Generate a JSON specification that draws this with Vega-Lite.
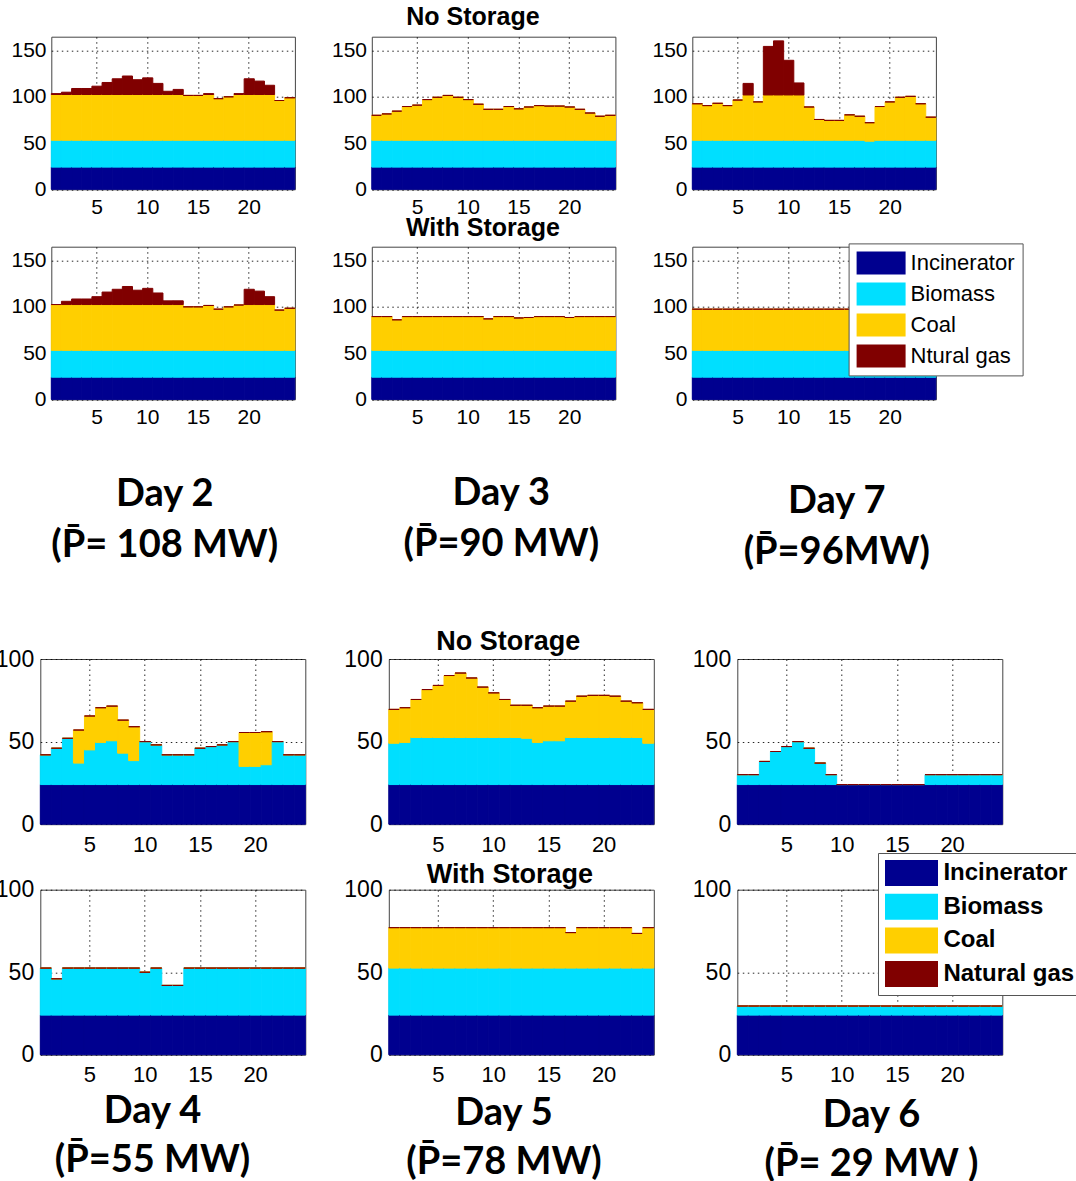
{
"$schema":"https://vega.github.io/schema/vega-lite/v6.json",
"autosize":"none",
"padding":{"left":40.3,"top":36.7,"right":1035.7,"bottom":1144.3},
"background":"white",
"datasets":{
"ord":[{"key":"Incinerator","o":1},{"key":"Biomass","o":2},{"key":"Coal","o":3},{"key":"Ntural gas","o":4},{"key":"Natural gas","o":4}],
"top":[
{"p":"2N","h":1,"Incinerator":24,"Biomass":29,"Coal":49.5,"Ntural gas":1},
{"p":"2N","h":2,"Incinerator":24,"Biomass":29,"Coal":49.5,"Ntural gas":2.5},
{"p":"2N","h":3,"Incinerator":24,"Biomass":29,"Coal":49.5,"Ntural gas":6.5},
{"p":"2N","h":4,"Incinerator":24,"Biomass":29,"Coal":49.5,"Ntural gas":6.5},
{"p":"2N","h":5,"Incinerator":24,"Biomass":29,"Coal":49.5,"Ntural gas":9},
{"p":"2N","h":6,"Incinerator":24,"Biomass":29,"Coal":49.5,"Ntural gas":13},
{"p":"2N","h":7,"Incinerator":24,"Biomass":29,"Coal":49.5,"Ntural gas":17},
{"p":"2N","h":8,"Incinerator":24,"Biomass":29,"Coal":49.5,"Ntural gas":20},
{"p":"2N","h":9,"Incinerator":24,"Biomass":29,"Coal":49.5,"Ntural gas":16},
{"p":"2N","h":10,"Incinerator":24,"Biomass":29,"Coal":49.5,"Ntural gas":18},
{"p":"2N","h":11,"Incinerator":24,"Biomass":29,"Coal":49.5,"Ntural gas":12},
{"p":"2N","h":12,"Incinerator":24,"Biomass":29,"Coal":49.5,"Ntural gas":3.5},
{"p":"2N","h":13,"Incinerator":24,"Biomass":29,"Coal":49.5,"Ntural gas":5.5},
{"p":"2N","h":14,"Incinerator":24,"Biomass":29,"Coal":48.5,"Ntural gas":0},
{"p":"2N","h":15,"Incinerator":24,"Biomass":29,"Coal":48.5,"Ntural gas":0},
{"p":"2N","h":16,"Incinerator":24,"Biomass":29,"Coal":49.5,"Ntural gas":1},
{"p":"2N","h":17,"Incinerator":24,"Biomass":29,"Coal":45,"Ntural gas":0},
{"p":"2N","h":18,"Incinerator":24,"Biomass":29,"Coal":47,"Ntural gas":0},
{"p":"2N","h":19,"Incinerator":24,"Biomass":29,"Coal":49.5,"Ntural gas":1},
{"p":"2N","h":20,"Incinerator":24,"Biomass":29,"Coal":49.5,"Ntural gas":17},
{"p":"2N","h":21,"Incinerator":24,"Biomass":29,"Coal":49.5,"Ntural gas":14.5},
{"p":"2N","h":22,"Incinerator":24,"Biomass":29,"Coal":49.5,"Ntural gas":10},
{"p":"2N","h":23,"Incinerator":24,"Biomass":29,"Coal":43,"Ntural gas":0},
{"p":"2N","h":24,"Incinerator":24,"Biomass":29,"Coal":46,"Ntural gas":0},
{"p":"2W","h":1,"Incinerator":24,"Biomass":29,"Coal":49.5,"Ntural gas":0},
{"p":"2W","h":2,"Incinerator":24,"Biomass":29,"Coal":49.5,"Ntural gas":3.5},
{"p":"2W","h":3,"Incinerator":24,"Biomass":29,"Coal":49.5,"Ntural gas":6},
{"p":"2W","h":4,"Incinerator":24,"Biomass":29,"Coal":49.5,"Ntural gas":6},
{"p":"2W","h":5,"Incinerator":24,"Biomass":29,"Coal":49.5,"Ntural gas":8.5},
{"p":"2W","h":6,"Incinerator":24,"Biomass":29,"Coal":49.5,"Ntural gas":13.5},
{"p":"2W","h":7,"Incinerator":24,"Biomass":29,"Coal":49.5,"Ntural gas":16.5},
{"p":"2W","h":8,"Incinerator":24,"Biomass":29,"Coal":49.5,"Ntural gas":19.5},
{"p":"2W","h":9,"Incinerator":24,"Biomass":29,"Coal":49.5,"Ntural gas":15.5},
{"p":"2W","h":10,"Incinerator":24,"Biomass":29,"Coal":49.5,"Ntural gas":17.5},
{"p":"2W","h":11,"Incinerator":24,"Biomass":29,"Coal":49.5,"Ntural gas":12.5},
{"p":"2W","h":12,"Incinerator":24,"Biomass":29,"Coal":49.5,"Ntural gas":4},
{"p":"2W","h":13,"Incinerator":24,"Biomass":29,"Coal":49.5,"Ntural gas":4},
{"p":"2W","h":14,"Incinerator":24,"Biomass":29,"Coal":47,"Ntural gas":0},
{"p":"2W","h":15,"Incinerator":24,"Biomass":29,"Coal":47,"Ntural gas":0},
{"p":"2W","h":16,"Incinerator":24,"Biomass":29,"Coal":48.5,"Ntural gas":0},
{"p":"2W","h":17,"Incinerator":24,"Biomass":29,"Coal":44.5,"Ntural gas":0},
{"p":"2W","h":18,"Incinerator":24,"Biomass":29,"Coal":47,"Ntural gas":0},
{"p":"2W","h":19,"Incinerator":24,"Biomass":29,"Coal":49,"Ntural gas":0},
{"p":"2W","h":20,"Incinerator":24,"Biomass":29,"Coal":49.5,"Ntural gas":16.5},
{"p":"2W","h":21,"Incinerator":24,"Biomass":29,"Coal":49.5,"Ntural gas":14.5},
{"p":"2W","h":22,"Incinerator":24,"Biomass":29,"Coal":49.5,"Ntural gas":8.5},
{"p":"2W","h":23,"Incinerator":24,"Biomass":29,"Coal":43.5,"Ntural gas":0},
{"p":"2W","h":24,"Incinerator":24,"Biomass":29,"Coal":45.5,"Ntural gas":0},
{"p":"3N","h":1,"Incinerator":24,"Biomass":29,"Coal":27,"Ntural gas":0},
{"p":"3N","h":2,"Incinerator":24,"Biomass":29,"Coal":28.5,"Ntural gas":0},
{"p":"3N","h":3,"Incinerator":24,"Biomass":29,"Coal":31.5,"Ntural gas":0},
{"p":"3N","h":4,"Incinerator":24,"Biomass":29,"Coal":36.5,"Ntural gas":0},
{"p":"3N","h":5,"Incinerator":24,"Biomass":29,"Coal":38,"Ntural gas":0},
{"p":"3N","h":6,"Incinerator":24,"Biomass":29,"Coal":44,"Ntural gas":0},
{"p":"3N","h":7,"Incinerator":24,"Biomass":29,"Coal":46.5,"Ntural gas":0},
{"p":"3N","h":8,"Incinerator":24,"Biomass":29,"Coal":48.5,"Ntural gas":0},
{"p":"3N","h":9,"Incinerator":24,"Biomass":29,"Coal":46.5,"Ntural gas":0},
{"p":"3N","h":10,"Incinerator":24,"Biomass":29,"Coal":44,"Ntural gas":0},
{"p":"3N","h":11,"Incinerator":24,"Biomass":29,"Coal":39,"Ntural gas":0},
{"p":"3N","h":12,"Incinerator":24,"Biomass":29,"Coal":33.5,"Ntural gas":0},
{"p":"3N","h":13,"Incinerator":24,"Biomass":29,"Coal":33.5,"Ntural gas":0},
{"p":"3N","h":14,"Incinerator":24,"Biomass":29,"Coal":36.5,"Ntural gas":0},
{"p":"3N","h":15,"Incinerator":24,"Biomass":29,"Coal":34,"Ntural gas":0},
{"p":"3N","h":16,"Incinerator":24,"Biomass":29,"Coal":36,"Ntural gas":0},
{"p":"3N","h":17,"Incinerator":24,"Biomass":29,"Coal":37.5,"Ntural gas":0},
{"p":"3N","h":18,"Incinerator":24,"Biomass":29,"Coal":37,"Ntural gas":0},
{"p":"3N","h":19,"Incinerator":24,"Biomass":29,"Coal":37,"Ntural gas":0},
{"p":"3N","h":20,"Incinerator":24,"Biomass":29,"Coal":36,"Ntural gas":0},
{"p":"3N","h":21,"Incinerator":24,"Biomass":29,"Coal":33.5,"Ntural gas":0},
{"p":"3N","h":22,"Incinerator":24,"Biomass":29,"Coal":29.5,"Ntural gas":0},
{"p":"3N","h":23,"Incinerator":24,"Biomass":29,"Coal":26,"Ntural gas":0},
{"p":"3N","h":24,"Incinerator":24,"Biomass":29,"Coal":27,"Ntural gas":0},
{"p":"3W","h":1,"Incinerator":24,"Biomass":29,"Coal":36.5,"Ntural gas":0},
{"p":"3W","h":2,"Incinerator":24,"Biomass":29,"Coal":36.5,"Ntural gas":0},
{"p":"3W","h":3,"Incinerator":24,"Biomass":29,"Coal":33,"Ntural gas":0},
{"p":"3W","h":4,"Incinerator":24,"Biomass":29,"Coal":36.5,"Ntural gas":0},
{"p":"3W","h":5,"Incinerator":24,"Biomass":29,"Coal":36.5,"Ntural gas":0},
{"p":"3W","h":6,"Incinerator":24,"Biomass":29,"Coal":36.5,"Ntural gas":0},
{"p":"3W","h":7,"Incinerator":24,"Biomass":29,"Coal":36.5,"Ntural gas":0},
{"p":"3W","h":8,"Incinerator":24,"Biomass":29,"Coal":36.5,"Ntural gas":0},
{"p":"3W","h":9,"Incinerator":24,"Biomass":29,"Coal":36.5,"Ntural gas":0},
{"p":"3W","h":10,"Incinerator":24,"Biomass":29,"Coal":36.5,"Ntural gas":0},
{"p":"3W","h":11,"Incinerator":24,"Biomass":29,"Coal":36.5,"Ntural gas":0},
{"p":"3W","h":12,"Incinerator":24,"Biomass":29,"Coal":34,"Ntural gas":0},
{"p":"3W","h":13,"Incinerator":24,"Biomass":29,"Coal":36.5,"Ntural gas":0},
{"p":"3W","h":14,"Incinerator":24,"Biomass":29,"Coal":36.5,"Ntural gas":0},
{"p":"3W","h":15,"Incinerator":24,"Biomass":29,"Coal":35,"Ntural gas":0},
{"p":"3W","h":16,"Incinerator":24,"Biomass":29,"Coal":35.5,"Ntural gas":0},
{"p":"3W","h":17,"Incinerator":24,"Biomass":29,"Coal":36.5,"Ntural gas":0},
{"p":"3W","h":18,"Incinerator":24,"Biomass":29,"Coal":36.5,"Ntural gas":0},
{"p":"3W","h":19,"Incinerator":24,"Biomass":29,"Coal":36.5,"Ntural gas":0},
{"p":"3W","h":20,"Incinerator":24,"Biomass":29,"Coal":35.5,"Ntural gas":0},
{"p":"3W","h":21,"Incinerator":24,"Biomass":29,"Coal":36.5,"Ntural gas":0},
{"p":"3W","h":22,"Incinerator":24,"Biomass":29,"Coal":36.5,"Ntural gas":0},
{"p":"3W","h":23,"Incinerator":24,"Biomass":29,"Coal":36.5,"Ntural gas":0},
{"p":"3W","h":24,"Incinerator":24,"Biomass":29,"Coal":36.5,"Ntural gas":0},
{"p":"7N","h":1,"Incinerator":24,"Biomass":29,"Coal":39.5,"Ntural gas":0},
{"p":"7N","h":2,"Incinerator":24,"Biomass":29,"Coal":37.5,"Ntural gas":0},
{"p":"7N","h":3,"Incinerator":24,"Biomass":29,"Coal":40,"Ntural gas":0},
{"p":"7N","h":4,"Incinerator":24,"Biomass":29,"Coal":37.5,"Ntural gas":0},
{"p":"7N","h":5,"Incinerator":24,"Biomass":29,"Coal":43.5,"Ntural gas":0},
{"p":"7N","h":6,"Incinerator":24,"Biomass":29,"Coal":49,"Ntural gas":12.5},
{"p":"7N","h":7,"Incinerator":24,"Biomass":29,"Coal":41.5,"Ntural gas":0},
{"p":"7N","h":8,"Incinerator":24,"Biomass":29,"Coal":49,"Ntural gas":52.5},
{"p":"7N","h":9,"Incinerator":24,"Biomass":29,"Coal":49,"Ntural gas":58.5},
{"p":"7N","h":10,"Incinerator":24,"Biomass":29,"Coal":49,"Ntural gas":37.5},
{"p":"7N","h":11,"Incinerator":24,"Biomass":29,"Coal":49,"Ntural gas":13},
{"p":"7N","h":12,"Incinerator":24,"Biomass":29,"Coal":36,"Ntural gas":0},
{"p":"7N","h":13,"Incinerator":24,"Biomass":29,"Coal":22.5,"Ntural gas":0},
{"p":"7N","h":14,"Incinerator":24,"Biomass":29,"Coal":21.5,"Ntural gas":0},
{"p":"7N","h":15,"Incinerator":24,"Biomass":29,"Coal":21.5,"Ntural gas":0},
{"p":"7N","h":16,"Incinerator":24,"Biomass":29,"Coal":27.5,"Ntural gas":0},
{"p":"7N","h":17,"Incinerator":24,"Biomass":29,"Coal":26,"Ntural gas":0},
{"p":"7N","h":18,"Incinerator":24,"Biomass":28,"Coal":20,"Ntural gas":0},
{"p":"7N","h":19,"Incinerator":24,"Biomass":29,"Coal":36.5,"Ntural gas":0},
{"p":"7N","h":20,"Incinerator":24,"Biomass":29,"Coal":41.5,"Ntural gas":0},
{"p":"7N","h":21,"Incinerator":24,"Biomass":29,"Coal":46.5,"Ntural gas":0},
{"p":"7N","h":22,"Incinerator":24,"Biomass":29,"Coal":47.5,"Ntural gas":0},
{"p":"7N","h":23,"Incinerator":24,"Biomass":29,"Coal":39.5,"Ntural gas":0},
{"p":"7N","h":24,"Incinerator":24,"Biomass":29,"Coal":25,"Ntural gas":0},
{"p":"7W","h":1,"Incinerator":24,"Biomass":29,"Coal":44.5,"Ntural gas":0},
{"p":"7W","h":2,"Incinerator":24,"Biomass":29,"Coal":44.5,"Ntural gas":0},
{"p":"7W","h":3,"Incinerator":24,"Biomass":29,"Coal":44.5,"Ntural gas":0},
{"p":"7W","h":4,"Incinerator":24,"Biomass":29,"Coal":44.5,"Ntural gas":0},
{"p":"7W","h":5,"Incinerator":24,"Biomass":29,"Coal":44.5,"Ntural gas":0},
{"p":"7W","h":6,"Incinerator":24,"Biomass":29,"Coal":44.5,"Ntural gas":0},
{"p":"7W","h":7,"Incinerator":24,"Biomass":29,"Coal":44.5,"Ntural gas":0},
{"p":"7W","h":8,"Incinerator":24,"Biomass":29,"Coal":44.5,"Ntural gas":0},
{"p":"7W","h":9,"Incinerator":24,"Biomass":29,"Coal":44.5,"Ntural gas":0},
{"p":"7W","h":10,"Incinerator":24,"Biomass":29,"Coal":44.5,"Ntural gas":0},
{"p":"7W","h":11,"Incinerator":24,"Biomass":29,"Coal":44.5,"Ntural gas":0},
{"p":"7W","h":12,"Incinerator":24,"Biomass":29,"Coal":44.5,"Ntural gas":0},
{"p":"7W","h":13,"Incinerator":24,"Biomass":29,"Coal":44.5,"Ntural gas":0},
{"p":"7W","h":14,"Incinerator":24,"Biomass":29,"Coal":44.5,"Ntural gas":0},
{"p":"7W","h":15,"Incinerator":24,"Biomass":29,"Coal":44.5,"Ntural gas":0},
{"p":"7W","h":16,"Incinerator":24,"Biomass":29,"Coal":44.5,"Ntural gas":0},
{"p":"7W","h":17,"Incinerator":24,"Biomass":29,"Coal":44.5,"Ntural gas":0},
{"p":"7W","h":18,"Incinerator":24,"Biomass":29,"Coal":44.5,"Ntural gas":0},
{"p":"7W","h":19,"Incinerator":24,"Biomass":29,"Coal":44.5,"Ntural gas":0},
{"p":"7W","h":20,"Incinerator":24,"Biomass":29,"Coal":44.5,"Ntural gas":0},
{"p":"7W","h":21,"Incinerator":24,"Biomass":29,"Coal":44.5,"Ntural gas":0},
{"p":"7W","h":22,"Incinerator":24,"Biomass":29,"Coal":44.5,"Ntural gas":0},
{"p":"7W","h":23,"Incinerator":24,"Biomass":29,"Coal":44.5,"Ntural gas":0},
{"p":"7W","h":24,"Incinerator":24,"Biomass":29,"Coal":44.5,"Ntural gas":0}
],
"bot":[
{"p":"4N","h":1,"Incinerator":24,"Biomass":18,"Coal":0,"Natural gas":0},
{"p":"4N","h":2,"Incinerator":24,"Biomass":22,"Coal":0,"Natural gas":0},
{"p":"4N","h":3,"Incinerator":24,"Biomass":28,"Coal":0,"Natural gas":0},
{"p":"4N","h":4,"Incinerator":24,"Biomass":13,"Coal":20,"Natural gas":0},
{"p":"4N","h":5,"Incinerator":24,"Biomass":21,"Coal":20.5,"Natural gas":0},
{"p":"4N","h":6,"Incinerator":24,"Biomass":25.5,"Coal":21,"Natural gas":0},
{"p":"4N","h":7,"Incinerator":24,"Biomass":26.5,"Coal":21,"Natural gas":0},
{"p":"4N","h":8,"Incinerator":24,"Biomass":19,"Coal":20,"Natural gas":0},
{"p":"4N","h":9,"Incinerator":24,"Biomass":14.5,"Coal":20.5,"Natural gas":0},
{"p":"4N","h":10,"Incinerator":24,"Biomass":26,"Coal":0,"Natural gas":0},
{"p":"4N","h":11,"Incinerator":24,"Biomass":24,"Coal":0,"Natural gas":0},
{"p":"4N","h":12,"Incinerator":24,"Biomass":18,"Coal":0,"Natural gas":0},
{"p":"4N","h":13,"Incinerator":24,"Biomass":18,"Coal":0,"Natural gas":0},
{"p":"4N","h":14,"Incinerator":24,"Biomass":18,"Coal":0,"Natural gas":0},
{"p":"4N","h":15,"Incinerator":24,"Biomass":22,"Coal":0,"Natural gas":0},
{"p":"4N","h":16,"Incinerator":24,"Biomass":23,"Coal":0,"Natural gas":0},
{"p":"4N","h":17,"Incinerator":24,"Biomass":24,"Coal":0,"Natural gas":0},
{"p":"4N","h":18,"Incinerator":24,"Biomass":26,"Coal":0,"Natural gas":0},
{"p":"4N","h":19,"Incinerator":24,"Biomass":11,"Coal":20.5,"Natural gas":0},
{"p":"4N","h":20,"Incinerator":24,"Biomass":11,"Coal":20.5,"Natural gas":0},
{"p":"4N","h":21,"Incinerator":24,"Biomass":12,"Coal":20,"Natural gas":0},
{"p":"4N","h":22,"Incinerator":24,"Biomass":26,"Coal":0,"Natural gas":0},
{"p":"4N","h":23,"Incinerator":24,"Biomass":18,"Coal":0,"Natural gas":0},
{"p":"4N","h":24,"Incinerator":24,"Biomass":18,"Coal":0,"Natural gas":0},
{"p":"4W","h":1,"Incinerator":24,"Biomass":28.5,"Coal":0,"Natural gas":0},
{"p":"4W","h":2,"Incinerator":24,"Biomass":22,"Coal":0,"Natural gas":0},
{"p":"4W","h":3,"Incinerator":24,"Biomass":28.5,"Coal":0,"Natural gas":0},
{"p":"4W","h":4,"Incinerator":24,"Biomass":28.5,"Coal":0,"Natural gas":0},
{"p":"4W","h":5,"Incinerator":24,"Biomass":28.5,"Coal":0,"Natural gas":0},
{"p":"4W","h":6,"Incinerator":24,"Biomass":28.5,"Coal":0,"Natural gas":0},
{"p":"4W","h":7,"Incinerator":24,"Biomass":28.5,"Coal":0,"Natural gas":0},
{"p":"4W","h":8,"Incinerator":24,"Biomass":28.5,"Coal":0,"Natural gas":0},
{"p":"4W","h":9,"Incinerator":24,"Biomass":28.5,"Coal":0,"Natural gas":0},
{"p":"4W","h":10,"Incinerator":24,"Biomass":26,"Coal":0,"Natural gas":0},
{"p":"4W","h":11,"Incinerator":24,"Biomass":28.5,"Coal":0,"Natural gas":0},
{"p":"4W","h":12,"Incinerator":24,"Biomass":18,"Coal":0,"Natural gas":0},
{"p":"4W","h":13,"Incinerator":24,"Biomass":18,"Coal":0,"Natural gas":0},
{"p":"4W","h":14,"Incinerator":24,"Biomass":28.5,"Coal":0,"Natural gas":0},
{"p":"4W","h":15,"Incinerator":24,"Biomass":28.5,"Coal":0,"Natural gas":0},
{"p":"4W","h":16,"Incinerator":24,"Biomass":28.5,"Coal":0,"Natural gas":0},
{"p":"4W","h":17,"Incinerator":24,"Biomass":28.5,"Coal":0,"Natural gas":0},
{"p":"4W","h":18,"Incinerator":24,"Biomass":28.5,"Coal":0,"Natural gas":0},
{"p":"4W","h":19,"Incinerator":24,"Biomass":28.5,"Coal":0,"Natural gas":0},
{"p":"4W","h":20,"Incinerator":24,"Biomass":28.5,"Coal":0,"Natural gas":0},
{"p":"4W","h":21,"Incinerator":24,"Biomass":28.5,"Coal":0,"Natural gas":0},
{"p":"4W","h":22,"Incinerator":24,"Biomass":28.5,"Coal":0,"Natural gas":0},
{"p":"4W","h":23,"Incinerator":24,"Biomass":28.5,"Coal":0,"Natural gas":0},
{"p":"4W","h":24,"Incinerator":24,"Biomass":28.5,"Coal":0,"Natural gas":0},
{"p":"5N","h":1,"Incinerator":24,"Biomass":25,"Coal":20.5,"Natural gas":0},
{"p":"5N","h":2,"Incinerator":24,"Biomass":25.5,"Coal":21,"Natural gas":0},
{"p":"5N","h":3,"Incinerator":24,"Biomass":28.5,"Coal":23,"Natural gas":0},
{"p":"5N","h":4,"Incinerator":24,"Biomass":28.5,"Coal":29,"Natural gas":0},
{"p":"5N","h":5,"Incinerator":24,"Biomass":28.5,"Coal":31.5,"Natural gas":0},
{"p":"5N","h":6,"Incinerator":24,"Biomass":28.5,"Coal":37.5,"Natural gas":0},
{"p":"5N","h":7,"Incinerator":24,"Biomass":28.5,"Coal":39,"Natural gas":0},
{"p":"5N","h":8,"Incinerator":24,"Biomass":28.5,"Coal":36,"Natural gas":0},
{"p":"5N","h":9,"Incinerator":24,"Biomass":28.5,"Coal":30.5,"Natural gas":0},
{"p":"5N","h":10,"Incinerator":24,"Biomass":28.5,"Coal":27,"Natural gas":0},
{"p":"5N","h":11,"Incinerator":24,"Biomass":28.5,"Coal":23,"Natural gas":0},
{"p":"5N","h":12,"Incinerator":24,"Biomass":28.5,"Coal":19.5,"Natural gas":0},
{"p":"5N","h":13,"Incinerator":24,"Biomass":28,"Coal":20,"Natural gas":0},
{"p":"5N","h":14,"Incinerator":24,"Biomass":25.5,"Coal":21,"Natural gas":0},
{"p":"5N","h":15,"Incinerator":24,"Biomass":26.5,"Coal":21,"Natural gas":0},
{"p":"5N","h":16,"Incinerator":24,"Biomass":26.5,"Coal":21,"Natural gas":0},
{"p":"5N","h":17,"Incinerator":24,"Biomass":28.5,"Coal":22,"Natural gas":0},
{"p":"5N","h":18,"Incinerator":24,"Biomass":28.5,"Coal":25,"Natural gas":0},
{"p":"5N","h":19,"Incinerator":24,"Biomass":28.5,"Coal":25.5,"Natural gas":0},
{"p":"5N","h":20,"Incinerator":24,"Biomass":28.5,"Coal":25.5,"Natural gas":0},
{"p":"5N","h":21,"Incinerator":24,"Biomass":28.5,"Coal":25,"Natural gas":0},
{"p":"5N","h":22,"Incinerator":24,"Biomass":28.5,"Coal":22,"Natural gas":0},
{"p":"5N","h":23,"Incinerator":24,"Biomass":28.5,"Coal":21,"Natural gas":0},
{"p":"5N","h":24,"Incinerator":24,"Biomass":25,"Coal":20.5,"Natural gas":0},
{"p":"5W","h":1,"Incinerator":24,"Biomass":28.5,"Coal":24.5,"Natural gas":0},
{"p":"5W","h":2,"Incinerator":24,"Biomass":28.5,"Coal":24.5,"Natural gas":0},
{"p":"5W","h":3,"Incinerator":24,"Biomass":28.5,"Coal":24.5,"Natural gas":0},
{"p":"5W","h":4,"Incinerator":24,"Biomass":28.5,"Coal":24.5,"Natural gas":0},
{"p":"5W","h":5,"Incinerator":24,"Biomass":28.5,"Coal":24.5,"Natural gas":0},
{"p":"5W","h":6,"Incinerator":24,"Biomass":28.5,"Coal":24.5,"Natural gas":0},
{"p":"5W","h":7,"Incinerator":24,"Biomass":28.5,"Coal":24.5,"Natural gas":0},
{"p":"5W","h":8,"Incinerator":24,"Biomass":28.5,"Coal":24.5,"Natural gas":0},
{"p":"5W","h":9,"Incinerator":24,"Biomass":28.5,"Coal":24.5,"Natural gas":0},
{"p":"5W","h":10,"Incinerator":24,"Biomass":28.5,"Coal":24.5,"Natural gas":0},
{"p":"5W","h":11,"Incinerator":24,"Biomass":28.5,"Coal":24.5,"Natural gas":0},
{"p":"5W","h":12,"Incinerator":24,"Biomass":28.5,"Coal":24.5,"Natural gas":0},
{"p":"5W","h":13,"Incinerator":24,"Biomass":28.5,"Coal":24.5,"Natural gas":0},
{"p":"5W","h":14,"Incinerator":24,"Biomass":28.5,"Coal":24.5,"Natural gas":0},
{"p":"5W","h":15,"Incinerator":24,"Biomass":28.5,"Coal":24.5,"Natural gas":0},
{"p":"5W","h":16,"Incinerator":24,"Biomass":28.5,"Coal":24.5,"Natural gas":0},
{"p":"5W","h":17,"Incinerator":24,"Biomass":28.5,"Coal":21.5,"Natural gas":0},
{"p":"5W","h":18,"Incinerator":24,"Biomass":28.5,"Coal":24.5,"Natural gas":0},
{"p":"5W","h":19,"Incinerator":24,"Biomass":28.5,"Coal":24.5,"Natural gas":0},
{"p":"5W","h":20,"Incinerator":24,"Biomass":28.5,"Coal":24.5,"Natural gas":0},
{"p":"5W","h":21,"Incinerator":24,"Biomass":28.5,"Coal":24.5,"Natural gas":0},
{"p":"5W","h":22,"Incinerator":24,"Biomass":28.5,"Coal":24.5,"Natural gas":0},
{"p":"5W","h":23,"Incinerator":24,"Biomass":28.5,"Coal":21,"Natural gas":0},
{"p":"5W","h":24,"Incinerator":24,"Biomass":28.5,"Coal":24.5,"Natural gas":0},
{"p":"6N","h":1,"Incinerator":24,"Biomass":6,"Coal":0,"Natural gas":0},
{"p":"6N","h":2,"Incinerator":24,"Biomass":6,"Coal":0,"Natural gas":0},
{"p":"6N","h":3,"Incinerator":24,"Biomass":14,"Coal":0,"Natural gas":0},
{"p":"6N","h":4,"Incinerator":24,"Biomass":20,"Coal":0,"Natural gas":0},
{"p":"6N","h":5,"Incinerator":24,"Biomass":23,"Coal":0,"Natural gas":0},
{"p":"6N","h":6,"Incinerator":24,"Biomass":26,"Coal":0,"Natural gas":0},
{"p":"6N","h":7,"Incinerator":24,"Biomass":22,"Coal":0,"Natural gas":0},
{"p":"6N","h":8,"Incinerator":24,"Biomass":13,"Coal":0,"Natural gas":0},
{"p":"6N","h":9,"Incinerator":24,"Biomass":6,"Coal":0,"Natural gas":0},
{"p":"6N","h":10,"Incinerator":24,"Biomass":0,"Coal":0,"Natural gas":0},
{"p":"6N","h":11,"Incinerator":24,"Biomass":0,"Coal":0,"Natural gas":0},
{"p":"6N","h":12,"Incinerator":24,"Biomass":0,"Coal":0,"Natural gas":0},
{"p":"6N","h":13,"Incinerator":24,"Biomass":0,"Coal":0,"Natural gas":0},
{"p":"6N","h":14,"Incinerator":24,"Biomass":0,"Coal":0,"Natural gas":0},
{"p":"6N","h":15,"Incinerator":24,"Biomass":0,"Coal":0,"Natural gas":0},
{"p":"6N","h":16,"Incinerator":24,"Biomass":0,"Coal":0,"Natural gas":0},
{"p":"6N","h":17,"Incinerator":24,"Biomass":0,"Coal":0,"Natural gas":0},
{"p":"6N","h":18,"Incinerator":24,"Biomass":6,"Coal":0,"Natural gas":0},
{"p":"6N","h":19,"Incinerator":24,"Biomass":6,"Coal":0,"Natural gas":0},
{"p":"6N","h":20,"Incinerator":24,"Biomass":6,"Coal":0,"Natural gas":0},
{"p":"6N","h":21,"Incinerator":24,"Biomass":6,"Coal":0,"Natural gas":0},
{"p":"6N","h":22,"Incinerator":24,"Biomass":6,"Coal":0,"Natural gas":0},
{"p":"6N","h":23,"Incinerator":24,"Biomass":6,"Coal":0,"Natural gas":0},
{"p":"6N","h":24,"Incinerator":24,"Biomass":6,"Coal":0,"Natural gas":0},
{"p":"6W","h":1,"Incinerator":24,"Biomass":5.5,"Coal":0,"Natural gas":0},
{"p":"6W","h":2,"Incinerator":24,"Biomass":5.5,"Coal":0,"Natural gas":0},
{"p":"6W","h":3,"Incinerator":24,"Biomass":5.5,"Coal":0,"Natural gas":0},
{"p":"6W","h":4,"Incinerator":24,"Biomass":5.5,"Coal":0,"Natural gas":0},
{"p":"6W","h":5,"Incinerator":24,"Biomass":5.5,"Coal":0,"Natural gas":0},
{"p":"6W","h":6,"Incinerator":24,"Biomass":5.5,"Coal":0,"Natural gas":0},
{"p":"6W","h":7,"Incinerator":24,"Biomass":5.5,"Coal":0,"Natural gas":0},
{"p":"6W","h":8,"Incinerator":24,"Biomass":5.5,"Coal":0,"Natural gas":0},
{"p":"6W","h":9,"Incinerator":24,"Biomass":5.5,"Coal":0,"Natural gas":0},
{"p":"6W","h":10,"Incinerator":24,"Biomass":5.5,"Coal":0,"Natural gas":0},
{"p":"6W","h":11,"Incinerator":24,"Biomass":5.5,"Coal":0,"Natural gas":0},
{"p":"6W","h":12,"Incinerator":24,"Biomass":5.5,"Coal":0,"Natural gas":0},
{"p":"6W","h":13,"Incinerator":24,"Biomass":5.5,"Coal":0,"Natural gas":0},
{"p":"6W","h":14,"Incinerator":24,"Biomass":5.5,"Coal":0,"Natural gas":0},
{"p":"6W","h":15,"Incinerator":24,"Biomass":5.5,"Coal":0,"Natural gas":0},
{"p":"6W","h":16,"Incinerator":24,"Biomass":5.5,"Coal":0,"Natural gas":0},
{"p":"6W","h":17,"Incinerator":24,"Biomass":5.5,"Coal":0,"Natural gas":0},
{"p":"6W","h":18,"Incinerator":24,"Biomass":5.5,"Coal":0,"Natural gas":0},
{"p":"6W","h":19,"Incinerator":24,"Biomass":5.5,"Coal":0,"Natural gas":0},
{"p":"6W","h":20,"Incinerator":24,"Biomass":5.5,"Coal":0,"Natural gas":0},
{"p":"6W","h":21,"Incinerator":24,"Biomass":5.5,"Coal":0,"Natural gas":0},
{"p":"6W","h":22,"Incinerator":24,"Biomass":5.5,"Coal":0,"Natural gas":0},
{"p":"6W","h":23,"Incinerator":24,"Biomass":5.5,"Coal":0,"Natural gas":0},
{"p":"6W","h":24,"Incinerator":24,"Biomass":5.5,"Coal":0,"Natural gas":0}
]
},
"config":{
"view":{"stroke":"#444","strokeWidth":1},
"axis":{"domain":false,"ticks":false,"tickSize":0,"labelFont":"Liberation Sans","labelColor":"#000","grid":true,"gridColor":"#000","gridDash":[1.5,3.5],"gridOpacity":0.85,"gridWidth":1,"labelFlush":false,"labelOverlap":false},
"axisX":{"titleFont":"Lato","titleFontSize":38,"titleFontWeight":"bold","titleColor":"#000","titleAlign":"center","titleBaseline":"alphabetic","titleAngle":0},
"title":{"font":"Liberation Sans","fontWeight":"bold","color":"#000","anchor":"middle","frame":"group","baseline":"alphabetic"}
},
"resolve":{"scale":{"color":"independent","stroke":"independent"},"legend":{"color":"independent","stroke":"independent"}},
"spacing":54.3,
"vconcat":[
{"spacing":-4.0,
 "resolve":{"scale":{"color":"independent","stroke":"independent"},"legend":{"color":"independent","stroke":"independent"}},
 "vconcat":[
 {"hconcat":[
  {"width":10.7,"height":10,"data":{"values":[]},"mark":{"type":"point"},"encoding":{},"view":{"stroke":null,"fill":null}},
  {"hconcat":[
  {"width":243.6,"height":152.6,"data":{"name":"top"},
   "transform":[{"filter":"datum.p=='2N'"},{"fold":["Incinerator","Biomass","Coal","Ntural gas"],"as":["key","mw"]},{"lookup":"key","from":{"data":{"name":"ord"},"key":"key","fields":["o"]}}],
   "mark":{"type":"bar","strokeWidth":1},
   "encoding":{
    "x":{"field":"h","type":"ordinal","scale":{"paddingInner":0,"paddingOuter":0},"axis":{"values":[5,10,15,20],"labelAngle":0,"bandPosition":0.5,"grid":true,"labelFontSize":21,"labelPadding":7,"title":null}},
    "y":{"field":"mw","type":"quantitative","stack":"zero","scale":{"domain":[0,165],"nice":false},"axis":{"values":[0,50,100,150],"labelFontSize":21,"labelPadding":5.3,"title":null}},
    "color":{"field":"key","type":"nominal","scale":{"domain":["Incinerator","Biomass","Coal","Ntural gas"],"range":["#00008F","#00DFFF","#FFCF00","#800000"]},"legend":null},
    "stroke":{"field":"key","type":"nominal","scale":{"domain":["Incinerator","Biomass","Coal","Ntural gas"],"range":["#00008F","#00DFFF","#FFCF00","#800000"]},"legend":null},
    "order":{"field":"o","type":"quantitative"}}},
  {"width":243.6,"height":152.6,"data":{"name":"top"},
   "title":{"text":"No Storage","fontSize":25,"offset":6.3,"dx":-20.7},
   "transform":[{"filter":"datum.p=='3N'"},{"fold":["Incinerator","Biomass","Coal","Ntural gas"],"as":["key","mw"]},{"lookup":"key","from":{"data":{"name":"ord"},"key":"key","fields":["o"]}}],
   "mark":{"type":"bar","strokeWidth":1},
   "encoding":{
    "x":{"field":"h","type":"ordinal","scale":{"paddingInner":0,"paddingOuter":0},"axis":{"values":[5,10,15,20],"labelAngle":0,"bandPosition":0.5,"grid":true,"labelFontSize":21,"labelPadding":7,"title":null}},
    "y":{"field":"mw","type":"quantitative","stack":"zero","scale":{"domain":[0,165],"nice":false},"axis":{"values":[0,50,100,150],"labelFontSize":21,"labelPadding":5.3,"title":null}},
    "color":{"field":"key","type":"nominal","scale":{"domain":["Incinerator","Biomass","Coal","Ntural gas"],"range":["#00008F","#00DFFF","#FFCF00","#800000"]},"legend":null},
    "stroke":{"field":"key","type":"nominal","scale":{"domain":["Incinerator","Biomass","Coal","Ntural gas"],"range":["#00008F","#00DFFF","#FFCF00","#800000"]},"legend":null},
    "order":{"field":"o","type":"quantitative"}}},
  {"width":243.6,"height":152.6,"data":{"name":"top"},
   "transform":[{"filter":"datum.p=='7N'"},{"fold":["Incinerator","Biomass","Coal","Ntural gas"],"as":["key","mw"]},{"lookup":"key","from":{"data":{"name":"ord"},"key":"key","fields":["o"]}}],
   "mark":{"type":"bar","strokeWidth":1},
   "encoding":{
    "x":{"field":"h","type":"ordinal","scale":{"paddingInner":0,"paddingOuter":0},"axis":{"values":[5,10,15,20],"labelAngle":0,"bandPosition":0.5,"grid":true,"labelFontSize":21,"labelPadding":7,"title":null}},
    "y":{"field":"mw","type":"quantitative","stack":"zero","scale":{"domain":[0,165],"nice":false},"axis":{"values":[0,50,100,150],"labelFontSize":21,"labelPadding":5.3,"title":null}},
    "color":{"field":"key","type":"nominal","scale":{"domain":["Incinerator","Biomass","Coal","Ntural gas"],"range":["#00008F","#00DFFF","#FFCF00","#800000"]},"legend":null},
    "stroke":{"field":"key","type":"nominal","scale":{"domain":["Incinerator","Biomass","Coal","Ntural gas"],"range":["#00008F","#00DFFF","#FFCF00","#800000"]},"legend":null},
    "order":{"field":"o","type":"quantitative"}}}
  ],"spacing":76.5,"bounds":"flush"}
 ],"spacing":0,"bounds":"flush",
 "resolve":{"scale":{"color":"independent","stroke":"independent"},"legend":{"color":"independent","stroke":"independent"}}},
 {"hconcat":[
  {"width":10.7,"height":10,"data":{"values":[]},"mark":{"type":"point"},"encoding":{},"view":{"stroke":null,"fill":null}},
  {"hconcat":[
  {"width":243.6,"height":152.7,"data":{"name":"top"},
   "transform":[{"filter":"datum.p=='2W'"},{"fold":["Incinerator","Biomass","Coal","Ntural gas"],"as":["key","mw"]},{"lookup":"key","from":{"data":{"name":"ord"},"key":"key","fields":["o"]}}],
   "mark":{"type":"bar","strokeWidth":1},
   "encoding":{
    "x":{"field":"h","type":"ordinal","scale":{"paddingInner":0,"paddingOuter":0},"axis":{"values":[5,10,15,20],"labelAngle":0,"bandPosition":0.5,"grid":true,"labelFontSize":21,"labelPadding":7,"title":["Day 2","(P\u0304= 108 MW)"],"titleX":113,"titleY":106.5,"titleLineHeight":51}},
    "y":{"field":"mw","type":"quantitative","stack":"zero","scale":{"domain":[0,165],"nice":false},"axis":{"values":[0,50,100,150],"labelFontSize":21,"labelPadding":5.3,"title":null}},
    "color":{"field":"key","type":"nominal","scale":{"domain":["Incinerator","Biomass","Coal","Ntural gas"],"range":["#00008F","#00DFFF","#FFCF00","#800000"]},"legend":{"orient":"none","legendX":797.3,"legendY":-3.3,"title":null,"symbolType":"M-1,-1H3.26V1H-1Z","symbolSize":529,"symbolStrokeWidth":0,"symbolOpacity":1,"labelFont":"Liberation Sans","labelFontSize":22,"labelColor":"#000","labelOffset":31,"rowPadding":8,"padding":8,"strokeColor":"#555","fillColor":"#fff","labelLimit":400}},
    "stroke":{"field":"key","type":"nominal","scale":{"domain":["Incinerator","Biomass","Coal","Ntural gas"],"range":["#00008F","#00DFFF","#FFCF00","#800000"]},"legend":null},
    "order":{"field":"o","type":"quantitative"}}},
  {"width":243.6,"height":152.7,"data":{"name":"top"},
   "title":{"text":"With Storage","fontSize":25,"offset":6,"dx":-10.7},
   "transform":[{"filter":"datum.p=='3W'"},{"fold":["Incinerator","Biomass","Coal","Ntural gas"],"as":["key","mw"]},{"lookup":"key","from":{"data":{"name":"ord"},"key":"key","fields":["o"]}}],
   "mark":{"type":"bar","strokeWidth":1},
   "encoding":{
    "x":{"field":"h","type":"ordinal","scale":{"paddingInner":0,"paddingOuter":0},"axis":{"values":[5,10,15,20],"labelAngle":0,"bandPosition":0.5,"grid":true,"labelFontSize":21,"labelPadding":7,"title":["Day 3","(P\u0304=90 MW)"],"titleX":129,"titleY":105.5,"titleLineHeight":51}},
    "y":{"field":"mw","type":"quantitative","stack":"zero","scale":{"domain":[0,165],"nice":false},"axis":{"values":[0,50,100,150],"labelFontSize":21,"labelPadding":5.3,"title":null}},
    "color":{"field":"key","type":"nominal","scale":{"domain":["Incinerator","Biomass","Coal","Ntural gas"],"range":["#00008F","#00DFFF","#FFCF00","#800000"]},"legend":{"orient":"none","legendX":797.3,"legendY":-3.3,"title":null,"symbolType":"M-1,-1H3.26V1H-1Z","symbolSize":529,"symbolStrokeWidth":0,"symbolOpacity":1,"labelFont":"Liberation Sans","labelFontSize":22,"labelColor":"#000","labelOffset":31,"rowPadding":8,"padding":8,"strokeColor":"#555","fillColor":"#fff","labelLimit":400}},
    "stroke":{"field":"key","type":"nominal","scale":{"domain":["Incinerator","Biomass","Coal","Ntural gas"],"range":["#00008F","#00DFFF","#FFCF00","#800000"]},"legend":null},
    "order":{"field":"o","type":"quantitative"}}},
  {"width":243.6,"height":152.7,"data":{"name":"top"},
   "transform":[{"filter":"datum.p=='7W'"},{"fold":["Incinerator","Biomass","Coal","Ntural gas"],"as":["key","mw"]},{"lookup":"key","from":{"data":{"name":"ord"},"key":"key","fields":["o"]}}],
   "mark":{"type":"bar","strokeWidth":1},
   "encoding":{
    "x":{"field":"h","type":"ordinal","scale":{"paddingInner":0,"paddingOuter":0},"axis":{"values":[5,10,15,20],"labelAngle":0,"bandPosition":0.5,"grid":true,"labelFontSize":21,"labelPadding":7,"title":["Day 7","(P\u0304=96MW)"],"titleX":144,"titleY":113.5,"titleLineHeight":51}},
    "y":{"field":"mw","type":"quantitative","stack":"zero","scale":{"domain":[0,165],"nice":false},"axis":{"values":[0,50,100,150],"labelFontSize":21,"labelPadding":5.3,"title":null}},
    "color":{"field":"key","type":"nominal","scale":{"domain":["Incinerator","Biomass","Coal","Ntural gas"],"range":["#00008F","#00DFFF","#FFCF00","#800000"]},"legend":{"orient":"none","legendX":797.3,"legendY":-3.3,"title":null,"symbolType":"M-1,-1H3.26V1H-1Z","symbolSize":529,"symbolStrokeWidth":0,"symbolOpacity":1,"labelFont":"Liberation Sans","labelFontSize":22,"labelColor":"#000","labelOffset":31,"rowPadding":8,"padding":8,"strokeColor":"#555","fillColor":"#fff","labelLimit":400}},
    "stroke":{"field":"key","type":"nominal","scale":{"domain":["Incinerator","Biomass","Coal","Ntural gas"],"range":["#00008F","#00DFFF","#FFCF00","#800000"]},"legend":null},
    "order":{"field":"o","type":"quantitative"}}}
  ],"spacing":76.5,"bounds":"flush"}
 ],"spacing":0,"bounds":"flush",
 "resolve":{"scale":{"color":"independent","stroke":"independent"},"legend":{"color":"independent","stroke":"independent"}}}
 ]},
{"spacing":-4.3,
 "resolve":{"scale":{"color":"independent","stroke":"independent"},"legend":{"color":"independent","stroke":"independent"}},
 "vconcat":[
 {"hconcat":[
  {"width":265,"height":165.2,"data":{"name":"bot"},
   "transform":[{"filter":"datum.p=='4N'"},{"fold":["Incinerator","Biomass","Coal","Natural gas"],"as":["key","mw"]},{"lookup":"key","from":{"data":{"name":"ord"},"key":"key","fields":["o"]}}],
   "mark":{"type":"bar","strokeWidth":1},
   "encoding":{
    "x":{"field":"h","type":"ordinal","scale":{"paddingInner":0,"paddingOuter":0},"axis":{"values":[5,10,15,20],"labelAngle":0,"bandPosition":0.5,"grid":true,"labelFontSize":22,"labelPadding":10,"title":null}},
    "y":{"field":"mw","type":"quantitative","stack":"zero","scale":{"domain":[0,100],"nice":false},"axis":{"values":[0,50,100],"labelFontSize":23,"labelPadding":6.6,"title":null}},
    "color":{"field":"key","type":"nominal","scale":{"domain":["Incinerator","Biomass","Coal","Natural gas"],"range":["#00008F","#00DFFF","#FFCF00","#800000"]},"legend":null},
    "stroke":{"field":"key","type":"nominal","scale":{"domain":["Incinerator","Biomass","Coal","Natural gas"],"range":["#00008F","#00DFFF","#FFCF00","#800000"]},"legend":null},
    "order":{"field":"o","type":"quantitative"}}},
  {"width":265,"height":165.2,"data":{"name":"bot"},
   "title":{"text":"No Storage","fontSize":27,"offset":-8.2,"dx":-13},
   "transform":[{"filter":"datum.p=='5N'"},{"fold":["Incinerator","Biomass","Coal","Natural gas"],"as":["key","mw"]},{"lookup":"key","from":{"data":{"name":"ord"},"key":"key","fields":["o"]}}],
   "mark":{"type":"bar","strokeWidth":1},
   "encoding":{
    "x":{"field":"h","type":"ordinal","scale":{"paddingInner":0,"paddingOuter":0},"axis":{"values":[5,10,15,20],"labelAngle":0,"bandPosition":0.5,"grid":true,"labelFontSize":22,"labelPadding":10,"title":null}},
    "y":{"field":"mw","type":"quantitative","stack":"zero","scale":{"domain":[0,100],"nice":false},"axis":{"values":[0,50,100],"labelFontSize":23,"labelPadding":6.6,"title":null}},
    "color":{"field":"key","type":"nominal","scale":{"domain":["Incinerator","Biomass","Coal","Natural gas"],"range":["#00008F","#00DFFF","#FFCF00","#800000"]},"legend":null},
    "stroke":{"field":"key","type":"nominal","scale":{"domain":["Incinerator","Biomass","Coal","Natural gas"],"range":["#00008F","#00DFFF","#FFCF00","#800000"]},"legend":null},
    "order":{"field":"o","type":"quantitative"}}},
  {"width":265,"height":165.2,"data":{"name":"bot"},
   "transform":[{"filter":"datum.p=='6N'"},{"fold":["Incinerator","Biomass","Coal","Natural gas"],"as":["key","mw"]},{"lookup":"key","from":{"data":{"name":"ord"},"key":"key","fields":["o"]}}],
   "mark":{"type":"bar","strokeWidth":1},
   "encoding":{
    "x":{"field":"h","type":"ordinal","scale":{"paddingInner":0,"paddingOuter":0},"axis":{"values":[5,10,15,20],"labelAngle":0,"bandPosition":0.5,"grid":true,"labelFontSize":22,"labelPadding":10,"title":null}},
    "y":{"field":"mw","type":"quantitative","stack":"zero","scale":{"domain":[0,100],"nice":false},"axis":{"values":[0,50,100],"labelFontSize":23,"labelPadding":6.6,"title":null}},
    "color":{"field":"key","type":"nominal","scale":{"domain":["Incinerator","Biomass","Coal","Natural gas"],"range":["#00008F","#00DFFF","#FFCF00","#800000"]},"legend":null},
    "stroke":{"field":"key","type":"nominal","scale":{"domain":["Incinerator","Biomass","Coal","Natural gas"],"range":["#00008F","#00DFFF","#FFCF00","#800000"]},"legend":null},
    "order":{"field":"o","type":"quantitative"}}}
 ],"spacing":83.5,"bounds":"flush"},
 {"hconcat":[
  {"width":265,"height":165,"data":{"name":"bot"},
   "transform":[{"filter":"datum.p=='4W'"},{"fold":["Incinerator","Biomass","Coal","Natural gas"],"as":["key","mw"]},{"lookup":"key","from":{"data":{"name":"ord"},"key":"key","fields":["o"]}}],
   "mark":{"type":"bar","strokeWidth":1},
   "encoding":{
    "x":{"field":"h","type":"ordinal","scale":{"paddingInner":0,"paddingOuter":0},"axis":{"values":[5,10,15,20],"labelAngle":0,"bandPosition":0.5,"grid":true,"labelFontSize":22,"labelPadding":10,"title":["Day 4","(P\u0304=55 MW)"],"titleX":111.7,"titleY":67.5,"titleLineHeight":49}},
    "y":{"field":"mw","type":"quantitative","stack":"zero","scale":{"domain":[0,100],"nice":false},"axis":{"values":[0,50,100],"labelFontSize":23,"labelPadding":6.6,"title":null}},
    "color":{"field":"key","type":"nominal","scale":{"domain":["Incinerator","Biomass","Coal","Natural gas"],"range":["#00008F","#00DFFF","#FFCF00","#800000"]},"legend":{"orient":"none","legendX":837.7,"legendY":-36.7,"title":null,"symbolType":"M-1,-1H3.077V1H-1Z","symbolSize":676,"symbolStrokeWidth":0,"symbolOpacity":1,"labelFont":"Liberation Sans","labelFontSize":24,"labelFontWeight":"bold","labelColor":"#000","labelOffset":32.4,"rowPadding":7.7,"padding":7,"strokeColor":"#555","fillColor":"#fff","labelLimit":400}},
    "stroke":{"field":"key","type":"nominal","scale":{"domain":["Incinerator","Biomass","Coal","Natural gas"],"range":["#00008F","#00DFFF","#FFCF00","#800000"]},"legend":null},
    "order":{"field":"o","type":"quantitative"}}},
  {"width":265,"height":165,"data":{"name":"bot"},
   "title":{"text":"With Storage","fontSize":27,"offset":-10.2,"dx":-11.5},
   "transform":[{"filter":"datum.p=='5W'"},{"fold":["Incinerator","Biomass","Coal","Natural gas"],"as":["key","mw"]},{"lookup":"key","from":{"data":{"name":"ord"},"key":"key","fields":["o"]}}],
   "mark":{"type":"bar","strokeWidth":1},
   "encoding":{
    "x":{"field":"h","type":"ordinal","scale":{"paddingInner":0,"paddingOuter":0},"axis":{"values":[5,10,15,20],"labelAngle":0,"bandPosition":0.5,"grid":true,"labelFontSize":22,"labelPadding":10,"title":["Day 5","(P\u0304=78 MW)"],"titleX":114.7,"titleY":69.5,"titleLineHeight":49}},
    "y":{"field":"mw","type":"quantitative","stack":"zero","scale":{"domain":[0,100],"nice":false},"axis":{"values":[0,50,100],"labelFontSize":23,"labelPadding":6.6,"title":null}},
    "color":{"field":"key","type":"nominal","scale":{"domain":["Incinerator","Biomass","Coal","Natural gas"],"range":["#00008F","#00DFFF","#FFCF00","#800000"]},"legend":{"orient":"none","legendX":837.7,"legendY":-36.7,"title":null,"symbolType":"M-1,-1H3.077V1H-1Z","symbolSize":676,"symbolStrokeWidth":0,"symbolOpacity":1,"labelFont":"Liberation Sans","labelFontSize":24,"labelFontWeight":"bold","labelColor":"#000","labelOffset":32.4,"rowPadding":7.7,"padding":7,"strokeColor":"#555","fillColor":"#fff","labelLimit":400}},
    "stroke":{"field":"key","type":"nominal","scale":{"domain":["Incinerator","Biomass","Coal","Natural gas"],"range":["#00008F","#00DFFF","#FFCF00","#800000"]},"legend":null},
    "order":{"field":"o","type":"quantitative"}}},
  {"width":265,"height":165,"data":{"name":"bot"},
   "transform":[{"filter":"datum.p=='6W'"},{"fold":["Incinerator","Biomass","Coal","Natural gas"],"as":["key","mw"]},{"lookup":"key","from":{"data":{"name":"ord"},"key":"key","fields":["o"]}}],
   "mark":{"type":"bar","strokeWidth":1},
   "encoding":{
    "x":{"field":"h","type":"ordinal","scale":{"paddingInner":0,"paddingOuter":0},"axis":{"values":[5,10,15,20],"labelAngle":0,"bandPosition":0.5,"grid":true,"labelFontSize":22,"labelPadding":10,"title":["Day 6","(P\u0304= 29 MW )"],"titleX":133.7,"titleY":71.5,"titleLineHeight":49}},
    "y":{"field":"mw","type":"quantitative","stack":"zero","scale":{"domain":[0,100],"nice":false},"axis":{"values":[0,50,100],"labelFontSize":23,"labelPadding":6.6,"title":null}},
    "color":{"field":"key","type":"nominal","scale":{"domain":["Incinerator","Biomass","Coal","Natural gas"],"range":["#00008F","#00DFFF","#FFCF00","#800000"]},"legend":{"orient":"none","legendX":837.7,"legendY":-36.7,"title":null,"symbolType":"M-1,-1H3.077V1H-1Z","symbolSize":676,"symbolStrokeWidth":0,"symbolOpacity":1,"labelFont":"Liberation Sans","labelFontSize":24,"labelFontWeight":"bold","labelColor":"#000","labelOffset":32.4,"rowPadding":7.7,"padding":7,"strokeColor":"#555","fillColor":"#fff","labelLimit":400}},
    "stroke":{"field":"key","type":"nominal","scale":{"domain":["Incinerator","Biomass","Coal","Natural gas"],"range":["#00008F","#00DFFF","#FFCF00","#800000"]},"legend":null},
    "order":{"field":"o","type":"quantitative"}}}
 ],"spacing":83.5,"bounds":"flush"}
 ]}
]
}
